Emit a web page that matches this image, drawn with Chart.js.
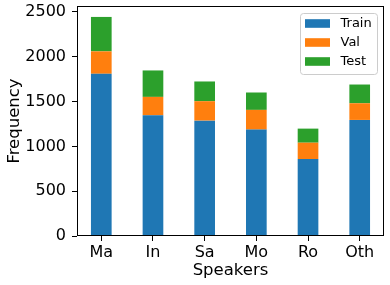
<!DOCTYPE html>
<html>
<head>
<meta charset="utf-8">
<script src="https://cdn.jsdelivr.net/npm/chart.js@4"></script>
<style>
  html, body { margin: 0; padding: 0; background: #fff; }
  canvas { display: block; }
</style>
</head>
<body>
<canvas id="c" width="390" height="285"></canvas>
<script>
const categories = ['Ma', 'In', 'Sa', 'Mo', 'Ro', 'Oth'];
const trainValues = [1810, 1347, 1287, 1187, 858, 1295];
const valValues = [250, 205, 217, 220, 183, 186];
const testValues = [384, 295, 220, 194, 157, 209];
const yTickValues = [0, 500, 1000, 1500, 2000, 2500];
const seriesNames = ['Train', 'Val', 'Test'];
const seriesColors = ['#1f77b4', '#ff7f0e', '#2ca02c'];

const FONT = "'DejaVu Sans', sans-serif";

function toPoints(arr) {
  return arr.map((v, i) => ({ x: i, y: v }));
}

const frameAndLegend = {
  id: 'frameAndLegend',
  afterDatasetsDraw(chart) {
    const ctx = chart.ctx;
    const a = chart.chartArea;
    ctx.save();
    ctx.strokeStyle = '#000';
    ctx.lineWidth = 1;
    const l = Math.round(a.left) + 0.5, r = Math.round(a.right) - 0.5;
    const t = Math.round(a.top) + 0.5, b = Math.round(a.bottom) - 0.5;
    ctx.strokeRect(l, t, r - l, b - t);

    // legend inside plot, upper right
    const bx = 300.5, by = 13.5, bw = 77, bh = 61, rad = 3;
    ctx.beginPath();
    ctx.moveTo(bx + rad, by);
    ctx.lineTo(bx + bw - rad, by);
    ctx.quadraticCurveTo(bx + bw, by, bx + bw, by + rad);
    ctx.lineTo(bx + bw, by + bh - rad);
    ctx.quadraticCurveTo(bx + bw, by + bh, bx + bw - rad, by + bh);
    ctx.lineTo(bx + rad, by + bh);
    ctx.quadraticCurveTo(bx, by + bh, bx, by + bh - rad);
    ctx.lineTo(bx, by + rad);
    ctx.quadraticCurveTo(bx, by, bx + rad, by);
    ctx.closePath();
    ctx.fillStyle = 'rgba(255,255,255,0.8)';
    ctx.fill();
    ctx.strokeStyle = '#cccccc';
    ctx.stroke();

    ctx.font = '13px ' + FONT;
    ctx.textBaseline = 'middle';
    ctx.textAlign = 'left';
    chart.data.datasets.forEach((ds, i) => {
      const cy = 23.5 + i * 19;
      ctx.fillStyle = ds.backgroundColor;
      ctx.fillRect(305, cy - 4.3, 25, 8.6);
      ctx.fillStyle = '#000';
      ctx.fillText(ds.label, 340.5, cy + 0.5);
    });
    ctx.restore();
  }
};

new Chart(document.getElementById('c'), {
  type: 'bar',
  data: {
    datasets: [
      { label: seriesNames[0], data: toPoints(trainValues), backgroundColor: seriesColors[0] },
      { label: seriesNames[1], data: toPoints(valValues), backgroundColor: seriesColors[1] },
      { label: seriesNames[2], data: toPoints(testValues), backgroundColor: seriesColors[2] }
    ]
  },
  options: {
    responsive: false,
    animation: false,
    devicePixelRatio: 1,
    barPercentage: 0.4,
    categoryPercentage: 1.0,
    layout: { padding: { left: 0, right: 6, top: 6, bottom: 0 } },
    plugins: {
      legend: { display: false },
      tooltip: { enabled: false }
    },
    scales: {
      x: {
        type: 'linear',
        stacked: true,
        offset: false,
        min: -0.47,
        max: 5.47,
        afterBuildTicks(scale) { scale.ticks = categories.map((_, i) => ({ value: i })); },
        afterFit(scale) {
          scale.height = 49;
          scale.paddingLeft = 0; scale.paddingRight = 0;
          scale.paddingTop = 0; scale.paddingBottom = 0;
        },
        grid: { offset: false, drawOnChartArea: false, drawTicks: true, tickLength: 5, color: '#000', lineWidth: 1 },
        border: { display: false },
        ticks: {
          color: '#000',
          font: { family: FONT, size: 16 },
          padding: 2,
          maxRotation: 0,
          autoSkip: false,
          callback: (v) => categories[v]
        },
        title: {
          display: true,
          text: 'Speakers',
          color: '#000',
          font: { family: FONT, size: 16.5, lineHeight: 1 },
          padding: { top: 0, bottom: 6 }
        }
      },
      y: {
        stacked: true,
        min: 0,
        max: 2566,
        afterBuildTicks(scale) { scale.ticks = yTickValues.map(v => ({ value: v })); },
        afterFit(scale) {
          scale.width = 77;
          scale.paddingLeft = 0; scale.paddingRight = 0;
          scale.paddingTop = 0; scale.paddingBottom = 0;
        },
        grid: { drawOnChartArea: false, drawTicks: true, tickLength: 5, color: '#000', lineWidth: 1 },
        border: { display: false },
        ticks: {
          color: '#000',
          font: { family: FONT, size: 16 },
          padding: 6,
          autoSkip: false,
          callback: (v) => String(v)
        },
        title: {
          display: true,
          text: 'Frequency',
          color: '#000',
          font: { family: FONT, size: 16.5, lineHeight: 1 },
          padding: { top: 6, bottom: 0 }
        }
      }
    }
  },
  plugins: [frameAndLegend]
});
</script>
</body>
</html>
